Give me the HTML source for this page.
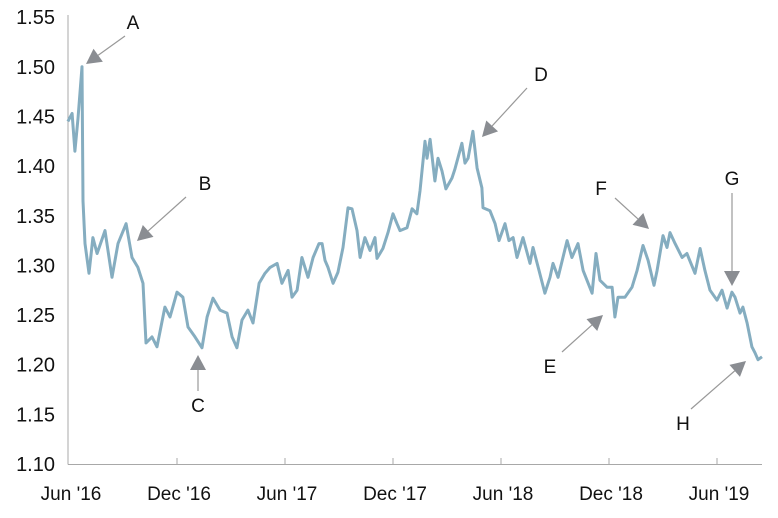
<!DOCTYPE html>
<html><head><meta charset="utf-8"><style>
html,body{margin:0;padding:0;background:#fff;}
svg{display:block;font-family:"Liberation Sans",sans-serif;}
</style></head><body>
<svg id="chart" width="778" height="518" viewBox="0 0 778 518"></svg>
<script>
const yTicks = [1.10,1.15,1.20,1.25,1.30,1.35,1.40,1.45,1.50,1.55];
const xTickLabels = ["Jun '16","Dec '16","Jun '17","Dec '17","Jun '18","Dec '18","Jun '19"];
const xTickMonths = [0,6,12,18,24,30,36];
const months = [-0.06,0.17,0.33,0.5,0.72,0.78,0.89,1.11,1.33,1.56,2.0,2.39,2.72,3.17,3.5,3.83,4.11,4.28,4.61,4.89,5.33,5.61,6.0,6.33,6.61,7.0,7.39,7.67,8.0,8.39,8.78,9.06,9.33,9.61,9.94,10.22,10.56,10.89,11.17,11.56,11.83,12.17,12.39,12.67,12.94,13.28,13.56,13.89,14.06,14.22,14.39,14.67,14.94,15.22,15.5,15.72,16.0,16.17,16.44,16.72,17.0,17.11,17.44,17.72,18.0,18.22,18.39,18.78,19.06,19.33,19.5,19.78,19.89,20.06,20.33,20.5,20.72,20.94,21.28,21.44,21.83,22.0,22.17,22.44,22.67,22.94,23.0,23.39,23.67,23.89,24.22,24.44,24.67,24.89,25.22,25.61,25.78,26.11,26.44,26.72,26.89,27.17,27.67,27.94,28.28,28.56,29.06,29.28,29.5,29.89,30.17,30.33,30.5,30.89,31.28,31.56,31.89,32.17,32.5,32.67,33.0,33.22,33.39,33.67,34.06,34.33,34.78,35.06,35.33,35.61,36.0,36.28,36.56,36.83,37.0,37.28,37.44,37.67,37.94,38.11,38.28,38.5];
const rates = [1.445,1.453,1.415,1.448,1.50,1.365,1.322,1.292,1.328,1.312,1.335,1.288,1.322,1.342,1.308,1.298,1.282,1.222,1.228,1.218,1.258,1.248,1.273,1.268,1.238,1.228,1.217,1.248,1.267,1.255,1.252,1.228,1.217,1.245,1.255,1.242,1.282,1.292,1.298,1.302,1.282,1.295,1.268,1.275,1.308,1.288,1.308,1.322,1.322,1.305,1.298,1.282,1.293,1.318,1.358,1.357,1.335,1.308,1.328,1.315,1.328,1.307,1.317,1.333,1.352,1.342,1.335,1.338,1.357,1.352,1.375,1.425,1.408,1.427,1.385,1.408,1.395,1.377,1.388,1.397,1.423,1.403,1.408,1.435,1.398,1.378,1.358,1.355,1.342,1.325,1.342,1.325,1.328,1.308,1.328,1.302,1.318,1.295,1.272,1.288,1.302,1.288,1.325,1.308,1.322,1.295,1.272,1.312,1.285,1.278,1.278,1.248,1.268,1.268,1.278,1.295,1.320,1.305,1.280,1.295,1.330,1.318,1.333,1.322,1.308,1.312,1.292,1.317,1.295,1.275,1.265,1.275,1.257,1.273,1.268,1.252,1.258,1.242,1.218,1.212,1.205,1.208];
const annLabels = ["A","B","C","D","E","F","G","H"];

const NS="http://www.w3.org/2000/svg";
const svg=document.getElementById('chart');
const X0=69, PXM=18, Y0=464, PXV=993;
function xs(m){return X0+m*PXM;}
function ys(v){return Y0-(v-1.10)*PXV;}
function mk(tag,attrs,parent){const e=document.createElementNS(NS,tag);for(const k in attrs)e.setAttribute(k,attrs[k]);(parent||svg).appendChild(e);return e;}

const yAxis=mk('line',{x1:68,y1:15,x2:68,y2:464.5,stroke:'#a8a8a8','stroke-width':1});


const xAxis=mk('line',{x1:68,y1:464.5,x2:762,y2:464.5,stroke:'#a8a8a8','stroke-width':1});



yTicks.forEach(v=>{
  const t=mk('text',{x:55,y:ys(v)+7,'text-anchor':'end','font-size':20,fill:'#111'});
  t.textContent=v.toFixed(2);
  
  
});
xTickMonths.forEach((m,i)=>{
  if(i>0){const tk=mk('line',{x1:xs(m),y1:458,x2:xs(m),y2:464.5,stroke:'#a8a8a8','stroke-width':1});
  
  }
  const t=mk('text',{x:xs(m)+2,y:500,'text-anchor':'middle','font-size':19,fill:'#111'});
  t.textContent=xTickLabels[i];
  
  
});

let d='';
months.forEach((m,i)=>{d+=(i?'L':'M')+xs(m).toFixed(1)+','+ys(rates[i]).toFixed(1);});
const line=mk('path',{d:d,fill:'none',stroke:'#85adc0','stroke-width':3,'stroke-linejoin':'round'});



const ann=[
 {l:[133,22],a:[125,36,86,64]},
 {l:[205,183],a:[186,197,137,241]},
 {l:[198,405],a:[198,391,198,355]},
 {l:[541,74],a:[527,88,482,137]},
 {l:[550,366],a:[562,352,603,315]},
 {l:[601,188],a:[615,198,649,229]},
 {l:[732,178],a:[732,193,732,286]},
 {l:[683,423],a:[691,409,746,361]}
];
ann.forEach((o,i)=>{
  const g=mk('g',{});
  
  
  const t=mk('text',{x:o.l[0],y:o.l[1]+7,'text-anchor':'middle','font-size':19,fill:'#111'},g);
  t.textContent=annLabels[i];
  const [x1,y1,x2,y2]=o.a;
  const dx=x2-x1,dy=y2-y1,L=Math.hypot(dx,dy),ux=dx/L,uy=dy/L;
  const hl=15,hw=8;
  const bx=x2-ux*hl,by=y2-uy*hl;
  mk('line',{x1:x1,y1:y1,x2:bx,y2:by,stroke:'#999','stroke-width':1.2},g);
  mk('polygon',{points:`${x2},${y2} ${bx-uy*hw},${by+ux*hw} ${bx+uy*hw},${by-ux*hw}`,fill:'#8a8d92'},g);
});
</script>
</body></html>
